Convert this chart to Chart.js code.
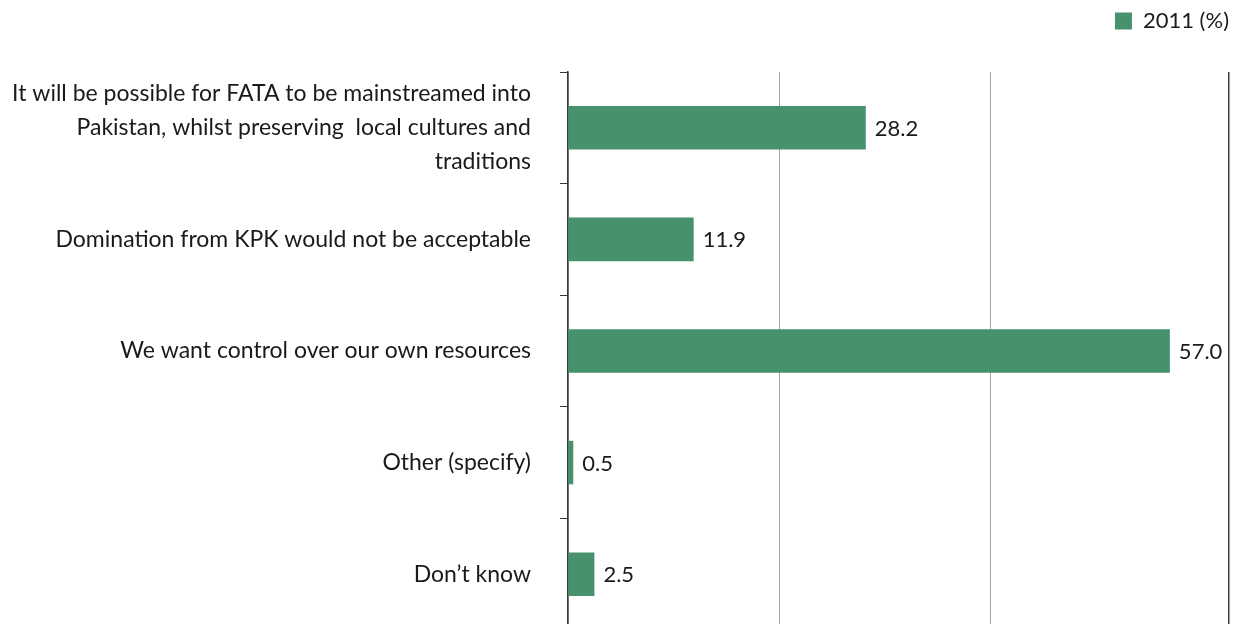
<!DOCTYPE html>
<html>
<head>
<meta charset="utf-8">
<script src="https://cdn.jsdelivr.net/npm/chart.js@4.4.1/dist/chart.umd.min.js"></script>
<style>
  html, body { margin: 0; padding: 0; background: #fff; overflow: hidden; }
  #fataChart { display: block; }
</style>
</head>
<body>
<canvas id="fataChart" width="1240" height="710"></canvas>
<script>
// Reasons given, 2011 survey
const categories = [
    ['It will be possible for FATA to be mainstreamed into', 'Pakistan, whilst preserving  local cultures and', 'traditions'],
    'Domination from KPK would not be acceptable',
    'We want control over our own resources',
    'Other (specify)',
    'Don\u2019t know'
];
const values2011 = [28.2, 11.9, 57.0, 0.5, 2.5];
const seriesLabel = '2011 (%)';
const gridTicks = [0, 20, 40];
const axisMax = 62.6;

const barColor = '#46926c';
const fontFamily = "Lato, 'Open Sans', sans-serif";

// value labels at the end of each bar
const barValueLabels = {
    id: 'barValueLabels',
    afterDatasetsDraw(chart) {
        const ctx = chart.ctx;
        const meta = chart.getDatasetMeta(0);
        ctx.save();
        ctx.font = '22px ' + fontFamily;
        ctx.fillStyle = '#1a1a1a';
        ctx.textAlign = 'left';
        ctx.textBaseline = 'middle';
        meta.data.forEach(function(bar, i) {
            ctx.fillText(values2011[i].toFixed(1), bar.x + 9, bar.y + 1);
        });
        ctx.restore();
    }
};

// extra room between the legend and the plot
const legendGap = {
    id: 'legendGap',
    beforeInit(chart) {
        const origFit = chart.legend.fit;
        chart.legend.fit = function() {
            origFit.call(this);
            this.height += 30;
        };
    }
};

window.addEventListener('load', function() {
    const chartCtx = document.getElementById('fataChart').getContext('2d');
    new Chart(chartCtx, {
        type: 'bar',
        data: {
            labels: categories,
            datasets: [{
                label: seriesLabel,
                data: values2011,
                backgroundColor: barColor,
                borderWidth: 0,
                barPercentage: 0.39,
                categoryPercentage: 1.0
            }]
        },
        options: {
            indexAxis: 'y',
            responsive: false,
            animation: false,
            layout: {
                padding: { left: 0, right: 11, top: 10, bottom: 20 }
            },
            scales: {
                x: {
                    min: 0,
                    max: axisMax,
                    afterBuildTicks: function(scale) {
                        scale.ticks = gridTicks.concat([axisMax]).map(function(v) { return { value: v }; });
                    },
                    grid: {
                        drawTicks: false,
                        lineWidth: function(c) { return c.tick && c.tick.value === axisMax ? 1.5 : 1; },
                        color: function(c) { return c.tick && c.tick.value === axisMax ? '#3a3a3a' : '#a6a6a6'; }
                    },
                    border: { display: false },
                    ticks: { display: false }
                },
                y: {
                    afterFit: function(scale) { scale.width = 568; },
                    grid: {
                        offset: true,
                        drawOnChartArea: false,
                        tickLength: 8,
                        color: '#3a3a3a'
                    },
                    border: { color: '#3a3a3a', width: 1.5 },
                    ticks: {
                        color: '#1a1a1a',
                        padding: 29,
                        font: { family: fontFamily, size: 23, lineHeight: 1.48 }
                    }
                }
            },
            plugins: {
                legend: {
                    position: 'top',
                    align: 'end',
                    labels: {
                        color: '#1a1a1a',
                        boxWidth: 17,
                        boxHeight: 17,
                        padding: 0,
                        font: { family: fontFamily, size: 22 }
                    }
                },
                tooltip: { enabled: false }
            }
        },
        plugins: [barValueLabels, legendGap]
    });
});
</script>
</body>
</html>
